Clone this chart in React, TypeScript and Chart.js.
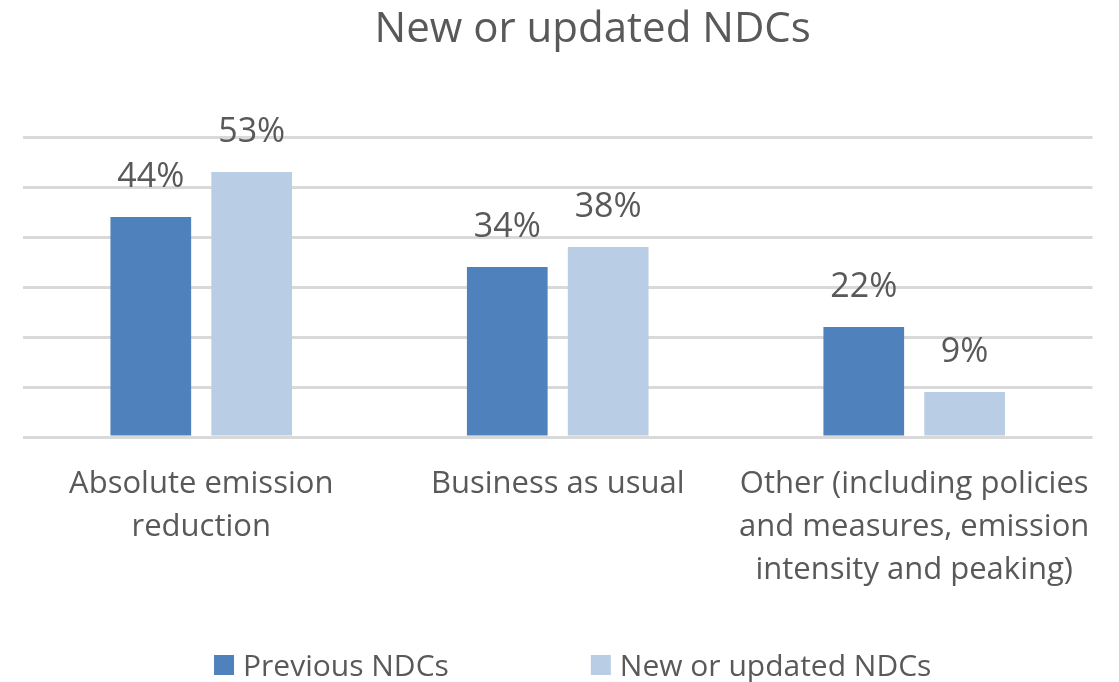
import React, { useEffect, useRef } from 'react';
import { Chart, registerables } from 'chart.js';

Chart.register(...registerables);

const chartTitle = 'New or updated NDCs';
const categories: string[][] = [
  ['Absolute emission', 'reduction'],
  ['Business as usual'],
  ['Other (including policies', 'and measures, emission', 'intensity and peaking)'],
];
const seriesNames = ['Previous NDCs', 'New or updated NDCs'];
const previousNDCs = [44, 34, 22];
const newOrUpdatedNDCs = [53, 38, 9];
const yMin = 0;
const yMax = 60;
const yStep = 10;
const seriesColors = ['#4F81BD', '#B9CDE5'];

const FONT = "'Open Sans', 'Noto Sans', sans-serif";
const TEXT = '#595959';

const decorPlugin = {
  id: 'decor',
  afterDatasetsDraw(chart: any) {
    const ctx = chart.ctx;
    ctx.save();
    ctx.fillStyle = TEXT;
    ctx.font = `34px ${FONT}`;
    ctx.textAlign = 'center';
    ctx.textBaseline = 'alphabetic';
    chart.data.datasets.forEach((ds: any, i: number) => {
      const meta = chart.getDatasetMeta(i);
      meta.data.forEach((el: any, j: number) => {
        ctx.fillText(`${ds.data[j]}%`, el.x, el.y - 30);
      });
    });
    ctx.restore();
  },
  afterDraw(chart: any) {
    const { ctx, chartArea } = chart;
    const mid = (chartArea.left + chartArea.right) / 2;
    ctx.save();
    ctx.fillStyle = TEXT;
    ctx.textBaseline = 'alphabetic';
    ctx.textAlign = 'center';
    ctx.font = `42px ${FONT}`;
    ctx.fillText(chartTitle, mid + 35, 42);

    // legend
    ctx.font = `30px ${FONT}`;
    ctx.textAlign = 'left';
    const box = 20;
    const gap = 9;
    const itemGap = 142;
    const items = chart.data.datasets.map((ds: any) => ({
      label: ds.label,
      color: ds.backgroundColor,
      w: ctx.measureText(ds.label).width,
    }));
    const total = items.reduce((s: number, it: any) => s + box + gap + it.w, 0) + itemGap * (items.length - 1);
    let x = mid + 15 - total / 2;
    const boxTop = 655;
    const baseline = 676;
    items.forEach((it: any) => {
      ctx.fillStyle = it.color;
      ctx.fillRect(x, boxTop, box, box);
      x += box + gap;
      ctx.fillStyle = TEXT;
      ctx.fillText(it.label, x, baseline);
      x += it.w + itemGap;
    });
    ctx.restore();
  },
};

export default function App() {
  const ref = useRef<HTMLCanvasElement | null>(null);
  useEffect(() => {
    if (!ref.current) return;
    Chart.defaults.font.family = FONT;
    const chart = new Chart(ref.current, {
      type: 'bar',
      data: {
        labels: categories,
        datasets: [
          {
            label: seriesNames[0],
            data: previousNDCs,
            backgroundColor: seriesColors[0],
            borderWidth: 0,
          },
          {
            label: seriesNames[1],
            data: newOrUpdatedNDCs,
            backgroundColor: seriesColors[1],
            borderWidth: 0,
          },
        ],
      },
      options: {
        animation: false,
        responsive: true,
        maintainAspectRatio: false,
        categoryPercentage: 0.566,
        barPercentage: 0.8,
        layout: { padding: { top: 137, left: 23, right: 22, bottom: 64 } },
        plugins: {
          legend: { display: false },
          title: { display: false },
          tooltip: { enabled: false },
        },
        scales: {
          x: {
            grid: { display: false, drawTicks: false },
            border: { display: false },
            ticks: {
              color: TEXT,
              font: { family: FONT, size: 31, lineHeight: 43 / 31 },
              padding: 26,
              maxRotation: 0,
              autoSkip: false,
            },
          },
          y: {
            min: yMin,
            max: yMax,
            grid: { color: '#D9D9D9', lineWidth: 3, drawTicks: false },
            border: { display: false },
            ticks: { display: false, stepSize: yStep },
          },
        },
      },
      plugins: [decorPlugin],
    } as any);
    return () => chart.destroy();
  }, []);
  return (
    <div style={{ position: 'fixed', left: 0, top: 0, width: 1119, height: 682, background: '#fff' }}>
      <canvas ref={ref} />
    </div>
  );
}
